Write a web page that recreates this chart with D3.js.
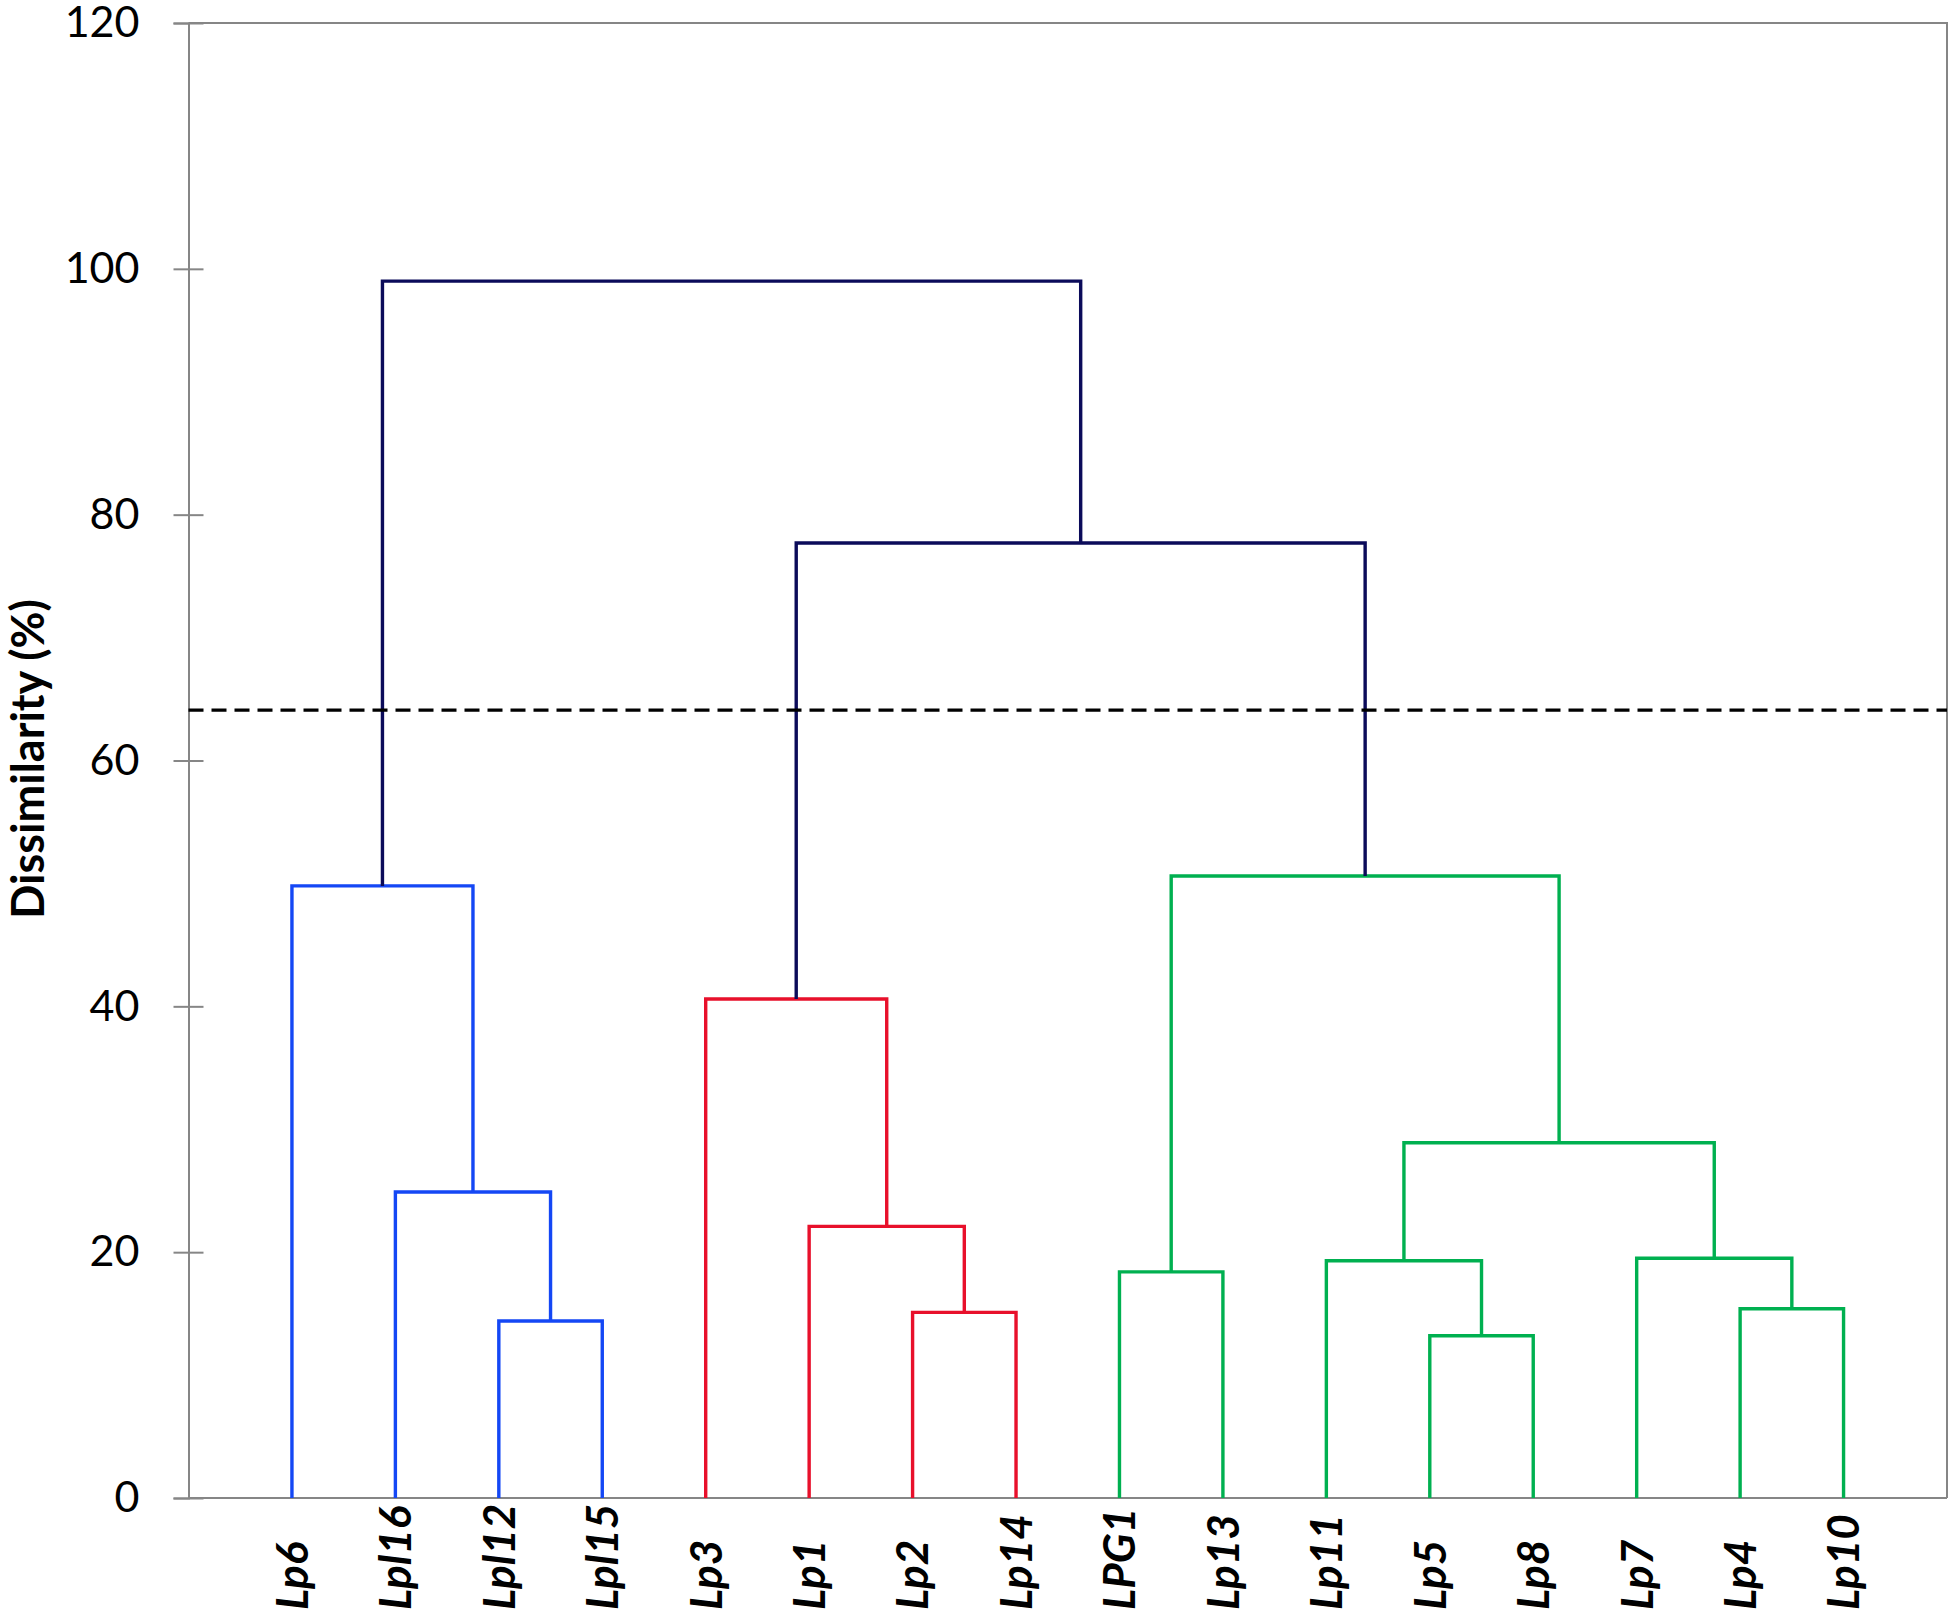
<!DOCTYPE html>
<html>
<head>
  <title>Dendrogram</title>
  <script src="https://d3js.org/d3.v7.min.js"></script>
  <style>
    body { margin: 0; background: #fff; }
  </style>
</head>
<body>
<script>
// leaves in drawing order
var leaves = ["Lp6","Lpl16","Lpl12","Lpl15","Lp3","Lp1","Lp2","Lp14",
              "LPG1","Lp13","Lp11","Lp5","Lp8","Lp7","Lp4","Lp10"];

// merge i joins mergeLeft[i] and mergeRight[i] at mergeHeight[i]; "m<i>" refers to an earlier merge
var mergeLeft   = ["Lpl12","Lpl16","Lp6","Lp2","Lp1","Lp3","LPG1","Lp5","Lp11","Lp4","Lp7","m8","m6","m5","m2"];
var mergeRight  = ["Lpl15","m0","m1","Lp14","m3","m4","Lp13","Lp8","m7","Lp10","m9","m10","m11","m12","m13"];
var mergeHeight = [14.4, 24.9, 49.8, 15.1, 22.1, 40.6, 18.4, 13.2, 19.3, 15.4, 19.5, 28.9, 50.6, 77.7, 99.0];
var mergeGroup  = ["A","A","A","B","B","B","C","C","C","C","C","C","C","root","root"];

var cutHeight = 64.1;
var yTicks = [0, 20, 40, 60, 80, 100, 120];

var groupColor = {A: "#1447f5", B: "#e8102b", C: "#00b050", root: "#0b0b5a"};

var W = 1957, H = 1618;
var plotL = 188.5, plotR = 1947, plotT = 23, plotB = 1498;

var svg = d3.select("body").append("svg")
  .attr("width", W).attr("height", H);

var x = d3.scalePoint().domain(leaves).range([plotL, plotR]).padding(1);
var y = d3.scaleLinear().domain([0, 120]).range([plotB, plotT]);

// node positions: leaves sit at 0, merges at their height, x at mid of children
var pos = {};
leaves.forEach(function(d){ pos[d] = {x: x(d), h: 0}; });
mergeHeight.forEach(function(h, i){
  var a = pos[mergeLeft[i]], b = pos[mergeRight[i]];
  pos["m" + i] = {x: (a.x + b.x) / 2, h: h};
});

// frame (top and right)
svg.append("path")
  .attr("d", "M" + plotL + "," + plotT + "H" + plotR + "V" + plotB)
  .attr("fill", "none").attr("stroke", "#868686").attr("stroke-width", 2);

// y axis with cross ticks
var yAxis = svg.append("g")
  .attr("transform", "translate(" + plotL + ",0)")
  .call(d3.axisLeft(y).tickValues(yTicks).tickSize(15).tickPadding(34));
yAxis.select(".domain").attr("stroke", "#868686").attr("stroke-width", 2);
yAxis.selectAll(".tick line").attr("x1", 15).attr("stroke", "#868686").attr("stroke-width", 2);
yAxis.selectAll(".tick text")
  .attr("font-family", "Lato, sans-serif").attr("font-size", 43).attr("fill", "#000");

// x axis line
svg.append("g")
  .attr("transform", "translate(0," + plotB + ")")
  .call(d3.axisBottom(x).tickSize(0).tickFormat(""))
  .call(function(g){
    g.select(".domain").attr("d", "M" + plotL + ",0H" + plotR)
      .attr("stroke", "#868686").attr("stroke-width", 2);
  });

// dendrogram links
var links = svg.append("g").attr("fill", "none").attr("stroke-width", 3.4)
  .attr("stroke-linejoin", "miter");
mergeHeight.forEach(function(h, i){
  var a = pos[mergeLeft[i]], b = pos[mergeRight[i]];
  links.append("path")
    .attr("d", "M" + a.x + "," + y(a.h) + "V" + y(h) + "H" + b.x + "V" + y(b.h))
    .attr("stroke", groupColor[mergeGroup[i]]);
});

// cut line
svg.append("line")
  .attr("x1", plotL).attr("x2", plotR)
  .attr("y1", y(cutHeight)).attr("y2", y(cutHeight))
  .attr("stroke", "#000").attr("stroke-width", 3.2)
  .attr("stroke-dasharray", "15,8");

// leaf labels
svg.append("g").selectAll("text").data(leaves).enter()
  .append("text")
  .attr("transform", function(d){ return "translate(" + x(d) + ",1610) rotate(-90)"; })
  .attr("dy", "0.36em")
  .attr("text-anchor", "start")
  .attr("font-family", "Lato, sans-serif")
  .attr("font-weight", "bold").attr("font-style", "italic")
  .attr("font-size", 44)
  .text(function(d){ return d; });

// y title
svg.append("text")
  .attr("transform", "translate(28,759) rotate(-90)")
  .attr("dy", "0.35em")
  .attr("text-anchor", "middle")
  .attr("font-family", "Lato, sans-serif").attr("font-weight", "bold")
  .attr("font-size", 45)
  .text("Dissimilarity (%)");
</script>
</body>
</html>
